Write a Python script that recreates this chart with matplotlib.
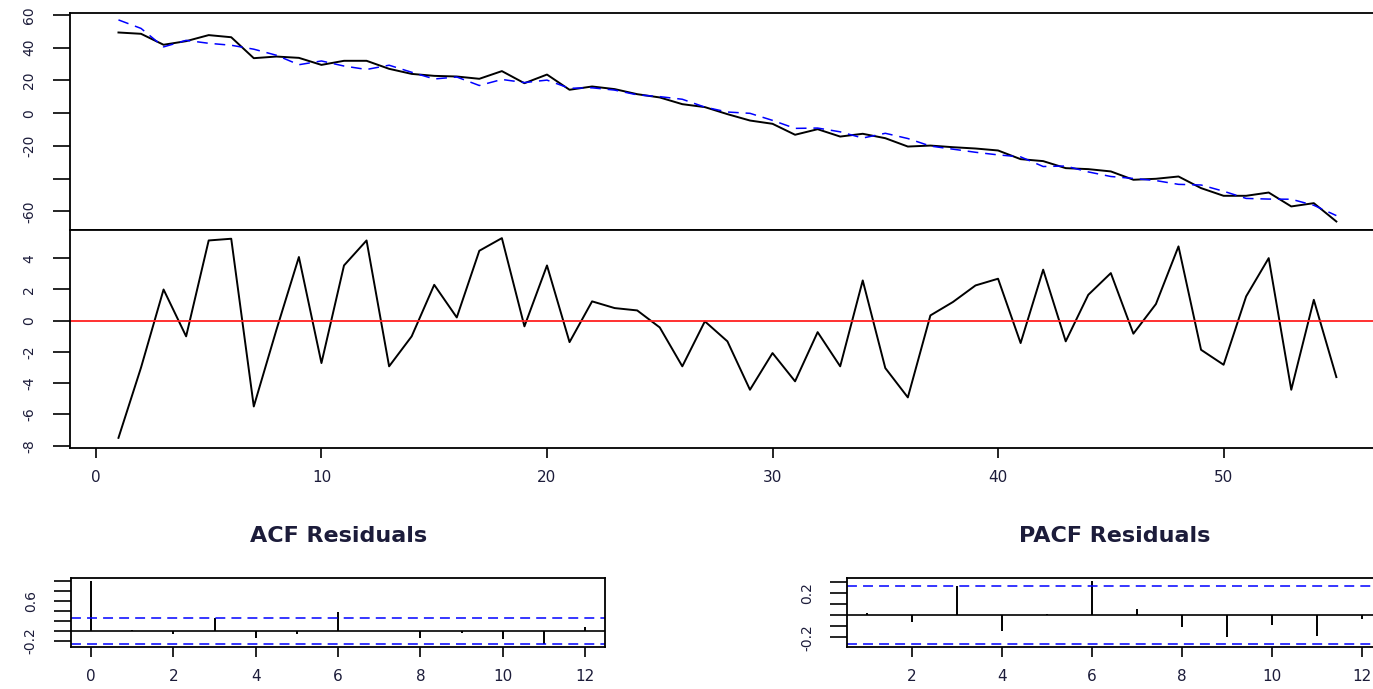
import numpy as np
import matplotlib
matplotlib.use("Agg")
import matplotlib.pyplot as plt

# ============================================================
# DADOS
# ============================================================

t = np.arange(1, 56)

observado = [49.3, 48.5, 41.8, 44.0, 47.7, 46.4, 33.6, 34.6, 33.8, 29.5,
             32.0, 32.0, 27.1, 24.0, 22.8, 22.4, 21.0, 25.7, 18.3, 23.6,
             14.3, 16.3, 14.7, 11.6, 9.6, 5.5, 3.7, -0.6, -4.5, -6.5,
             -13.2, -9.8, -14.3, -12.6, -15.3, -20.4, -19.8, -20.8, -21.6, -22.8,
             -28.1, -29.3, -33.6, -34.2, -35.6, -40.7, -40.1, -38.7, -45.8, -50.5,
             -50.5, -48.5, -57.0, -55.0, -66.2]

ajustado = [57.0, 51.8, 40.5, 44.5, 42.7, 41.5, 39.1, 35.4, 29.6, 31.9,
            28.8, 26.7, 29.3, 25.0, 20.9, 22.1, 16.9, 20.6, 18.7, 20.2,
            15.2, 15.5, 14.1, 11.2, 10.1, 8.5, 3.7, 0.7, -0.1, -4.4,
            -9.3, -9.1, -11.4, -15.2, -12.3, -15.5, -20.1, -22.0, -23.9, -25.5,
            -26.7, -32.6, -32.3, -35.9, -38.7, -39.9, -41.2, -43.5, -43.9, -47.7,
            -52.1, -52.5, -52.6, -56.3, -62.6]

residuos = [-7.5, -3.0, 2.0, -1.0, 5.14, 5.25, -5.49, -0.6, 4.08, -2.71,
            3.54, 5.14, -2.92, -1.0, 2.3, 0.21, 4.48, 5.29, -0.36, 3.54,
            -1.37, 1.24, 0.81, 0.66, -0.43, -2.92, -0.04, -1.32, -4.42, -2.07,
            -3.88, -0.73, -2.92, 2.58, -3.03, -4.91, 0.34, 1.2, 2.26, 2.69,
            -1.43, 3.27, -1.32, 1.66, 3.05, -0.83, 1.07, 4.76, -1.86, -2.82,
            1.56, 4.01, -4.42, 1.34, -3.61]

lags_acf = np.arange(0, 13)
acf_vals = [1.0, 0.01, -0.07, 0.26, -0.14, -0.07, 0.37, 0.0, -0.13, -0.05, -0.16, -0.26, 0.07]

lags_pacf = np.arange(1, 13)
pacf_vals = [0.015, -0.06, 0.26, -0.14, 0.01, 0.31, 0.054, -0.11, -0.2, -0.09, -0.19, -0.036]

ic = 0.264  # limite de confianca

# ============================================================
# ESTILO
# ============================================================

cor_txt = "#1c1c3a"
plt.rcParams["font.family"] = "DejaVu Sans"
plt.rcParams["axes.linewidth"] = 1.3
plt.rcParams["axes.unicode_minus"] = False


def estilo(ax, ylen=12, xlen=7.2):
    ax.tick_params(axis="y", length=ylen, width=1.2, pad=12, labelsize=10,
                   labelcolor=cor_txt, labelrotation=90)
    ax.tick_params(axis="x", length=xlen, width=1.2, pad=9, labelsize=11,
                   labelcolor=cor_txt)
    for lab in ax.get_yticklabels():
        lab.set_va("center")


fig = plt.figure(figsize=(13.73, 6.89), dpi=100)

# ============================================================
# 1) SERIE OBSERVADA x AJUSTADA
# ============================================================

ax1 = fig.add_axes([0.0508, 0.66618, 0.958, 0.3154])
ax1.plot(t, observado, color="black", lw=1.4)
ax1.plot(t, ajustado, color="blue", lw=1.1, dashes=(7, 4.5))
ax1.set_xlim(-1.16, 57.16)
ax1.set_ylim(-71.4, 61.4)
ax1.set_yticks([-60, -40, -20, 0, 20, 40, 60])
ax1.set_yticklabels(["-60", "", "-20", "0", "20", "40", "60"])
ax1.set_xticks([])
estilo(ax1)

# ============================================================
# 2) RESIDUOS
# ============================================================

ax2 = fig.add_axes([0.0508, 0.35022, 0.958, 0.31597])
ax2.plot(t, residuos, color="black", lw=1.4)
ax2.axhline(0, color="#ff2020", lw=1.3)
ax2.set_xlim(-1.16, 57.16)
ax2.set_ylim(-8.13, 5.81)
ax2.set_yticks([-8, -6, -4, -2, 0, 2, 4])
ax2.set_xticks([0, 10, 20, 30, 40, 50])
estilo(ax2)

# ============================================================
# 3) ACF
# ============================================================

ax3 = fig.add_axes([0.05186, 0.06125, 0.38878, 0.09956])
ax3.vlines(lags_acf, 0, acf_vals, color="black", lw=1.4)
ax3.axhline(0, color="black", lw=1.2)
ax3.axhline(ic, color="blue", lw=1.1, dashes=(6.5, 4))
ax3.axhline(-ic, color="blue", lw=1.1, dashes=(6.5, 4))
ax3.set_xlim(-0.48, 12.48)
ax3.set_ylim(-0.315, 1.05)
ax3.set_yticks([-0.2, 0.0, 0.2, 0.4, 0.6, 0.8, 1.0])
ax3.set_yticklabels(["-0.2", "", "", "", "0.6", "", ""])
ax3.set_xticks(np.arange(0, 13, 2))
ax3.set_title("ACF Residuals", fontsize=16, fontweight="bold", pad=26, color=cor_txt)
estilo(ax3)

# ============================================================
# 4) PACF
# ============================================================

ax4 = fig.add_axes([0.61705, 0.06125, 0.38937, 0.09956])
ax4.vlines(lags_pacf, 0, pacf_vals, color="black", lw=1.4)
ax4.axhline(0, color="black", lw=1.2)
ax4.axhline(ic, color="blue", lw=1.1, dashes=(6.5, 4))
ax4.axhline(-ic, color="blue", lw=1.1, dashes=(6.5, 4))
ax4.set_xlim(0.56, 12.44)
ax4.set_ylim(-0.287, 0.332)
ax4.set_yticks([-0.2, -0.1, 0.0, 0.1, 0.2, 0.3])
ax4.set_yticklabels(["-0.2", "", "", "", "0.2", ""])
ax4.set_xticks(np.arange(2, 13, 2))
ax4.set_title("PACF Residuals", fontsize=16, fontweight="bold", pad=26, color=cor_txt)
estilo(ax4)

fig.savefig("out.png", dpi=100)
